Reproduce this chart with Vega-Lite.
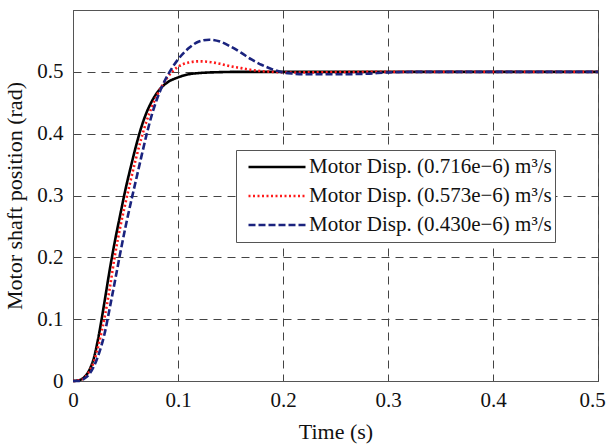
{
  "$schema": "https://vega.github.io/schema/vega-lite/v6.json",
  "autosize": {"type": "none"},
  "padding": {"left": 73, "top": 10, "right": 10, "bottom": 66},
  "width": 525,
  "height": 371,
  "background": "white",
  "config": {
    "view": {"stroke": "#555555", "strokeWidth": 1},
    "font": "Liberation Serif",
    "axis": {
      "labelFont": "Liberation Serif",
      "titleFont": "Liberation Serif",
      "labelFontSize": 21,
      "titleFontSize": 22,
      "titleFontWeight": "normal",
      "labelColor": "#111111",
      "titleColor": "#111111",
      "domainColor": "#555555",
      "ticks": false,
      "grid": true,
      "gridColor": "#444444",
      "gridDash": [8, 6],
      "gridWidth": 1,
      "gridOpacity": 1,
      "format": "~g"
    }
  },
  "data": {
    "values": [
      {"s": "Motor Disp. (0.716e−6) m³/s", "t": 0, "v": 0},
      {"s": "Motor Disp. (0.716e−6) m³/s", "t": 0.005, "v": 0.001},
      {"s": "Motor Disp. (0.716e−6) m³/s", "t": 0.01, "v": 0.005},
      {"s": "Motor Disp. (0.716e−6) m³/s", "t": 0.015, "v": 0.016},
      {"s": "Motor Disp. (0.716e−6) m³/s", "t": 0.02, "v": 0.038},
      {"s": "Motor Disp. (0.716e−6) m³/s", "t": 0.025, "v": 0.078},
      {"s": "Motor Disp. (0.716e−6) m³/s", "t": 0.03, "v": 0.128},
      {"s": "Motor Disp. (0.716e−6) m³/s", "t": 0.035, "v": 0.18},
      {"s": "Motor Disp. (0.716e−6) m³/s", "t": 0.04, "v": 0.227},
      {"s": "Motor Disp. (0.716e−6) m³/s", "t": 0.045, "v": 0.269},
      {"s": "Motor Disp. (0.716e−6) m³/s", "t": 0.05, "v": 0.31},
      {"s": "Motor Disp. (0.716e−6) m³/s", "t": 0.055, "v": 0.346},
      {"s": "Motor Disp. (0.716e−6) m³/s", "t": 0.06, "v": 0.38},
      {"s": "Motor Disp. (0.716e−6) m³/s", "t": 0.065, "v": 0.41},
      {"s": "Motor Disp. (0.716e−6) m³/s", "t": 0.07, "v": 0.434},
      {"s": "Motor Disp. (0.716e−6) m³/s", "t": 0.075, "v": 0.452},
      {"s": "Motor Disp. (0.716e−6) m³/s", "t": 0.08, "v": 0.466},
      {"s": "Motor Disp. (0.716e−6) m³/s", "t": 0.085, "v": 0.476},
      {"s": "Motor Disp. (0.716e−6) m³/s", "t": 0.09, "v": 0.483},
      {"s": "Motor Disp. (0.716e−6) m³/s", "t": 0.1, "v": 0.491},
      {"s": "Motor Disp. (0.716e−6) m³/s", "t": 0.11, "v": 0.496},
      {"s": "Motor Disp. (0.716e−6) m³/s", "t": 0.12, "v": 0.498},
      {"s": "Motor Disp. (0.716e−6) m³/s", "t": 0.14, "v": 0.4995},
      {"s": "Motor Disp. (0.716e−6) m³/s", "t": 0.16, "v": 0.5},
      {"s": "Motor Disp. (0.716e−6) m³/s", "t": 0.5, "v": 0.5},
      {"s": "Motor Disp. (0.573e−6) m³/s", "t": 0, "v": 0},
      {"s": "Motor Disp. (0.573e−6) m³/s", "t": 0.005, "v": 0.001},
      {"s": "Motor Disp. (0.573e−6) m³/s", "t": 0.01, "v": 0.004},
      {"s": "Motor Disp. (0.573e−6) m³/s", "t": 0.015, "v": 0.014},
      {"s": "Motor Disp. (0.573e−6) m³/s", "t": 0.02, "v": 0.032},
      {"s": "Motor Disp. (0.573e−6) m³/s", "t": 0.025, "v": 0.063},
      {"s": "Motor Disp. (0.573e−6) m³/s", "t": 0.03, "v": 0.102},
      {"s": "Motor Disp. (0.573e−6) m³/s", "t": 0.035, "v": 0.15},
      {"s": "Motor Disp. (0.573e−6) m³/s", "t": 0.04, "v": 0.204},
      {"s": "Motor Disp. (0.573e−6) m³/s", "t": 0.045, "v": 0.249},
      {"s": "Motor Disp. (0.573e−6) m³/s", "t": 0.05, "v": 0.288},
      {"s": "Motor Disp. (0.573e−6) m³/s", "t": 0.055, "v": 0.325},
      {"s": "Motor Disp. (0.573e−6) m³/s", "t": 0.06, "v": 0.36},
      {"s": "Motor Disp. (0.573e−6) m³/s", "t": 0.065, "v": 0.392},
      {"s": "Motor Disp. (0.573e−6) m³/s", "t": 0.07, "v": 0.42},
      {"s": "Motor Disp. (0.573e−6) m³/s", "t": 0.075, "v": 0.443},
      {"s": "Motor Disp. (0.573e−6) m³/s", "t": 0.08, "v": 0.462},
      {"s": "Motor Disp. (0.573e−6) m³/s", "t": 0.085, "v": 0.478},
      {"s": "Motor Disp. (0.573e−6) m³/s", "t": 0.09, "v": 0.491},
      {"s": "Motor Disp. (0.573e−6) m³/s", "t": 0.095, "v": 0.501},
      {"s": "Motor Disp. (0.573e−6) m³/s", "t": 0.1, "v": 0.508},
      {"s": "Motor Disp. (0.573e−6) m³/s", "t": 0.11, "v": 0.515},
      {"s": "Motor Disp. (0.573e−6) m³/s", "t": 0.12, "v": 0.517},
      {"s": "Motor Disp. (0.573e−6) m³/s", "t": 0.13, "v": 0.516},
      {"s": "Motor Disp. (0.573e−6) m³/s", "t": 0.14, "v": 0.513},
      {"s": "Motor Disp. (0.573e−6) m³/s", "t": 0.15, "v": 0.509},
      {"s": "Motor Disp. (0.573e−6) m³/s", "t": 0.16, "v": 0.506},
      {"s": "Motor Disp. (0.573e−6) m³/s", "t": 0.17, "v": 0.503},
      {"s": "Motor Disp. (0.573e−6) m³/s", "t": 0.18, "v": 0.501},
      {"s": "Motor Disp. (0.573e−6) m³/s", "t": 0.19, "v": 0.5},
      {"s": "Motor Disp. (0.573e−6) m³/s", "t": 0.21, "v": 0.499},
      {"s": "Motor Disp. (0.573e−6) m³/s", "t": 0.25, "v": 0.4995},
      {"s": "Motor Disp. (0.573e−6) m³/s", "t": 0.3, "v": 0.5},
      {"s": "Motor Disp. (0.573e−6) m³/s", "t": 0.5, "v": 0.5},
      {"s": "Motor Disp. (0.430e−6) m³/s", "t": 0, "v": 0},
      {"s": "Motor Disp. (0.430e−6) m³/s", "t": 0.005, "v": 0.0},
      {"s": "Motor Disp. (0.430e−6) m³/s", "t": 0.01, "v": 0.003},
      {"s": "Motor Disp. (0.430e−6) m³/s", "t": 0.015, "v": 0.01},
      {"s": "Motor Disp. (0.430e−6) m³/s", "t": 0.02, "v": 0.024},
      {"s": "Motor Disp. (0.430e−6) m³/s", "t": 0.025, "v": 0.046},
      {"s": "Motor Disp. (0.430e−6) m³/s", "t": 0.03, "v": 0.076},
      {"s": "Motor Disp. (0.430e−6) m³/s", "t": 0.035, "v": 0.118},
      {"s": "Motor Disp. (0.430e−6) m³/s", "t": 0.04, "v": 0.162},
      {"s": "Motor Disp. (0.430e−6) m³/s", "t": 0.045, "v": 0.207},
      {"s": "Motor Disp. (0.430e−6) m³/s", "t": 0.05, "v": 0.249},
      {"s": "Motor Disp. (0.430e−6) m³/s", "t": 0.055, "v": 0.288},
      {"s": "Motor Disp. (0.430e−6) m³/s", "t": 0.06, "v": 0.325},
      {"s": "Motor Disp. (0.430e−6) m³/s", "t": 0.065, "v": 0.362},
      {"s": "Motor Disp. (0.430e−6) m³/s", "t": 0.07, "v": 0.398},
      {"s": "Motor Disp. (0.430e−6) m³/s", "t": 0.075, "v": 0.43},
      {"s": "Motor Disp. (0.430e−6) m³/s", "t": 0.08, "v": 0.456},
      {"s": "Motor Disp. (0.430e−6) m³/s", "t": 0.085, "v": 0.477},
      {"s": "Motor Disp. (0.430e−6) m³/s", "t": 0.09, "v": 0.494},
      {"s": "Motor Disp. (0.430e−6) m³/s", "t": 0.095, "v": 0.508},
      {"s": "Motor Disp. (0.430e−6) m³/s", "t": 0.1, "v": 0.52},
      {"s": "Motor Disp. (0.430e−6) m³/s", "t": 0.11, "v": 0.538},
      {"s": "Motor Disp. (0.430e−6) m³/s", "t": 0.12, "v": 0.549},
      {"s": "Motor Disp. (0.430e−6) m³/s", "t": 0.13, "v": 0.552},
      {"s": "Motor Disp. (0.430e−6) m³/s", "t": 0.14, "v": 0.549},
      {"s": "Motor Disp. (0.430e−6) m³/s", "t": 0.15, "v": 0.541},
      {"s": "Motor Disp. (0.430e−6) m³/s", "t": 0.16, "v": 0.531},
      {"s": "Motor Disp. (0.430e−6) m³/s", "t": 0.17, "v": 0.52},
      {"s": "Motor Disp. (0.430e−6) m³/s", "t": 0.18, "v": 0.511},
      {"s": "Motor Disp. (0.430e−6) m³/s", "t": 0.19, "v": 0.504},
      {"s": "Motor Disp. (0.430e−6) m³/s", "t": 0.2, "v": 0.499},
      {"s": "Motor Disp. (0.430e−6) m³/s", "t": 0.21, "v": 0.497},
      {"s": "Motor Disp. (0.430e−6) m³/s", "t": 0.22, "v": 0.496},
      {"s": "Motor Disp. (0.430e−6) m³/s", "t": 0.25, "v": 0.496},
      {"s": "Motor Disp. (0.430e−6) m³/s", "t": 0.28, "v": 0.497},
      {"s": "Motor Disp. (0.430e−6) m³/s", "t": 0.3, "v": 0.499},
      {"s": "Motor Disp. (0.430e−6) m³/s", "t": 0.33, "v": 0.5},
      {"s": "Motor Disp. (0.430e−6) m³/s", "t": 0.5, "v": 0.5}
    ]
  },
  "mark": {"type": "line", "interpolate": "monotone", "strokeWidth": 2.6},
  "encoding": {
    "x": {
      "field": "t", "type": "quantitative", "title": "Time (s)",
      "scale": {"domain": [0, 0.5], "nice": false},
      "axis": {
        "values": [0, 0.1, 0.2, 0.3, 0.4, 0.5], "labelFlush": false, "labelPadding": 8, "titlePadding": 11,
        "labelOffset": {"condition": {"test": "datum.value >= 0.5", "value": -6}, "value": 0}
      }
    },
    "y": {
      "field": "v", "type": "quantitative", "title": "Motor shaft position (rad)",
      "scale": {"domain": [0, 0.6], "nice": false},
      "axis": {"values": [0, 0.1, 0.2, 0.3, 0.4, 0.5], "labelPadding": 10, "titlePadding": 10}
    },
    "color": {
      "field": "s", "type": "nominal", "title": null,
      "scale": {
        "domain": ["Motor Disp. (0.716e−6) m³/s", "Motor Disp. (0.573e−6) m³/s", "Motor Disp. (0.430e−6) m³/s"],
        "range": ["#000000", "#ff1a1a", "#1a237e"]
      },
      "legend": {
        "orient": "none", "legendX": 163, "legendY": 140,
        "fillColor": "white", "strokeColor": "#555555", "padding": 3,
        "symbolType": "stroke", "symbolSize": 3249, "symbolStrokeWidth": 2.6, "symbolOffset": 8,
        "clipHeight": 28, "rowPadding": 1,
        "labelFont": "Liberation Serif", "labelFontSize": 21, "labelColor": "#111111",
        "labelOffset": 2, "labelLimit": 400
      }
    },
    "strokeDash": {
      "field": "s", "type": "nominal", "title": null,
      "scale": {
        "domain": ["Motor Disp. (0.716e−6) m³/s", "Motor Disp. (0.573e−6) m³/s", "Motor Disp. (0.430e−6) m³/s"],
        "range": [[1, 0], [2, 2.5], [7, 3]]
      }
    }
  }
}
